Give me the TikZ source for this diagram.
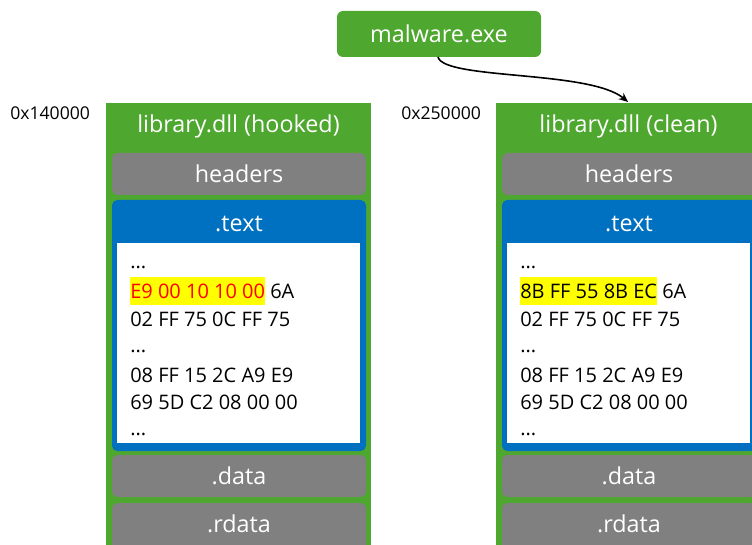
\documentclass[tikz,border=0pt]{standalone}
\usepackage{fontspec}
\setmainfont{Open Sans}
\usetikzlibrary{fit,arrows.meta}
\definecolor{dllgreen}{HTML}{4EA72E}
\definecolor{secgray}{HTML}{808080}
\definecolor{codeblue}{HTML}{0070C0}
\definecolor{hiyellow}{HTML}{FFFF00}
\definecolor{hired}{HTML}{FF0000}
\setlength{\fboxsep}{0pt}
% yellow marker behind a run of bytes
\newcommand\hilite[1]{\smash{\colorbox{hiyellow}{\rule[-5.25pt]{0pt}{21pt}#1}}}
% the seven lines of bytes shown inside a .text pane
\newcommand\hexdump[3]{%
  \node[hex] (#1a) at (#2,268) {...};
  \node[hex] (#1b) at (#2,298) {#3};
  \node[hex] (#1c) at (#2,326) {02 FF 75 0C FF 75};
  \node[hex] (#1d) at (#2,352) {...};
  \node[hex] (#1e) at (#2,382) {08 FF 15 2C A9 E9};
  \node[hex] (#1f) at (#2,409) {69 5D C2 08 00 00};
  \node[hex] (#1g) at (#2,435) {...};
}
\begin{document}
\begin{tikzpicture}[x=0.75pt,y=-0.75pt,
  module/.style={fill=dllgreen, draw=none, inner sep=0pt},
  title/.style={text=white, font=\fontsize{17.5}{20}\selectfont, inner sep=0pt},
  section/.style={fill=secgray, rounded corners=4pt, inner sep=0pt},
  textsec/.style={fill=codeblue, rounded corners=4pt, inner sep=0pt},
  pane/.style={fill=white, inner sep=0pt},
  hex/.style={anchor=base west, inner sep=0pt, text=black,
    font=\fontsize{15}{17}\selectfont},
  addr/.style={anchor=west, inner sep=0pt, font=\fontsize{13.2}{15}\selectfont},
  exe/.style={fill=dllgreen, rounded corners=4.5pt, inner sep=0pt},
  call/.style={-{Stealth[length=7pt,width=6pt]}, line width=1.2pt, black}]
\useasboundingbox (0,0) rectangle (752,545);
\clip (0,0) rectangle (752,545);

% hooked module
\node[module, fit={(106,103) (371,560)}] (lmod) {};
\node[title] (ltitle) at (238.5,126) {library.dll (hooked)};
\node[section, fit={(112,153) (366,195)}] (lhead) {};
\node[title] (lheadlbl) at (lhead.center) {headers};
\node[textsec, fit={(112,200) (366,451)}] (ltext) {};
\node[title] (ltextlbl) at (239,224) {.text};
\node[pane, fit={(117,243) (360,443)}] (lpane) {};
\hexdump{l}{130}{\hilite{\color{hired}E9 00 10 10 00} 6A}
\node[section, fit={(112,455) (366,497)}] (ldata) {};
\node[title] (ldatalbl) at (ldata.center) {.data};
\node[section, fit={(112,503) (366,570)}] (lrdata) {};
\node[title] (lrdatalbl) at (239,524) {.rdata};
\node[addr] (laddr) at (10,113) {0x140000};

% clean module
\node[module, fit={(496,103) (761,560)}] (rmod) {};
\node[title] (rtitle) at (628.5,126) {library.dll (clean)};
\node[section, fit={(502,153) (756,195)}] (rhead) {};
\node[title] (rheadlbl) at (rhead.center) {headers};
\node[textsec, fit={(502,200) (756,451)}] (rtext) {};
\node[title] (rtextlbl) at (629,224) {.text};
\node[pane, fit={(507,243) (750,443)}] (rpane) {};
\hexdump{r}{520}{\hilite{8B FF 55 8B EC} 6A}
\node[section, fit={(502,455) (756,497)}] (rdata) {};
\node[title] (rdatalbl) at (rdata.center) {.data};
\node[section, fit={(502,503) (756,570)}] (rrdata) {};
\node[title] (rrdatalbl) at (629,524) {.rdata};
\node[addr] (raddr) at (401,113) {0x250000};

% the loader process and its mapping of the clean copy
\node[exe, fit={(337,11) (541,57)}] (mal) {};
\node[title] (mallbl) at (mal.center) {malware.exe};
\coordinate (malout) at (438,57);
\coordinate (rin) at (628,102);
\draw[call] (malout) .. controls (444,80) and (590,70) .. (rin);
\end{tikzpicture}
\end{document}
